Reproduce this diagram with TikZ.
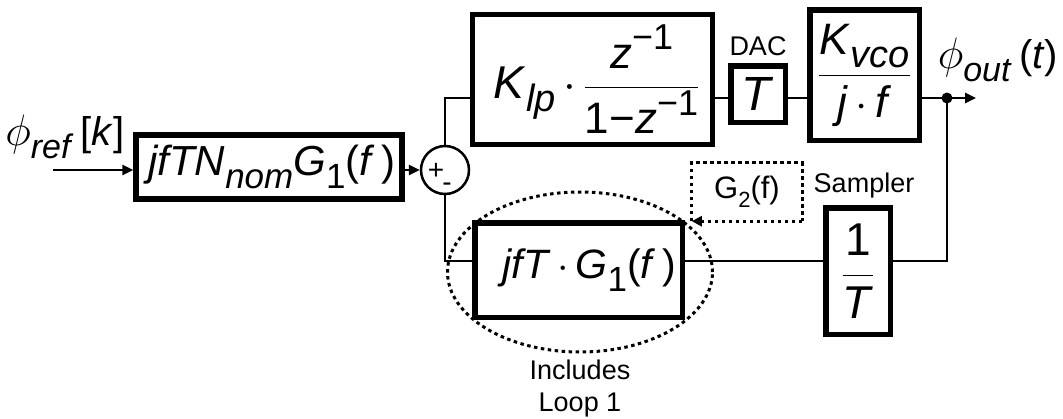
\RequirePackage{fix-cm}
\documentclass[tikz,border=0pt]{standalone}
\usepackage{amsmath}
\usepackage{fontspec}
\setmainfont{Liberation Sans}
\usetikzlibrary{arrows.meta,shapes.geometric}
\newcommand\mi[1]{\textit{#1}}
\newcommand\fsz[1]{\fontsize{#1}{#1}\selectfont}
\newcommand\lo[2]{\raisebox{-0.3em}{\fsz{#1}#2}}
\newcommand\hi[2]{\raisebox{0.42em}{\fsz{#1}#2}}
\tikzset{
  blk/.style={draw,line width=5.5pt,inner sep=0pt,anchor=center},
  wire/.style={line width=2.5pt},
  arr/.style={wire,-{Triangle[length=11pt,width=10pt]}},
  dotline/.style={line width=3pt,dash pattern=on 3.5pt off 3.5pt},
  lbl/.style={inner sep=0pt,align=center},
}
\begin{document}
\begin{tikzpicture}[x=1pt,y=-1pt]
\useasboundingbox (0,0) rectangle (1063,418);
\coordinate (rA) at (0,98);
\coordinate (rB) at (0,261);
\coordinate (rC) at (0,170);
\coordinate (in) at (53,170);
\coordinate (out) at (976,98);
\coordinate (j) at (947,98);

\node[blk,minimum width=266pt,minimum height=64pt] (b1) at (269,167)
  {\fsz{42}\hspace{6pt}\mi{jfTN}\lo{35}{\mi{nom}}\mi{G}\lo{35}{1}(\mi{f}\,)};
\node[draw,circle,line width=2.5pt,minimum size=48pt,inner sep=0pt] (sum) at (445,170) {};
\node[lbl,font=\fsz{28}] (plus) at (436,171) {+};
\node[lbl,font=\fsz{28}] (minus) at (447,187) {-};

\node[blk,minimum width=240pt,minimum height=130pt] (b2) at (592.5,79.5)
  {\fsz{46}\hspace{8pt}\mi{K}\lo{38}{\mi{lp}}\,$\cdot$\,\fsz{44}$\dfrac{\mbox{\mi{z}\hi{36}{−1}}}{\mbox{1−\mi{z}\hi{36}{−1}}}$};
\node[blk,minimum width=54.5pt,minimum height=56.5pt] (dac) at (758,94)
  {\fsz{48}\mi{T}};
\node[blk,minimum width=109.5pt,minimum height=130.5pt] (b3) at (864.5,75)
  {\fsz{44}$\dfrac{\mbox{\mi{K}\lo{38}{\mi{vco}}\rule[-0.42em]{0pt}{0.1em}}}{\mbox{\mi{j}\,$\cdot$\,\mi{f}}}$};
\node[blk,minimum width=64.5pt,minimum height=126.5pt] (s) at (858,271)
  {\fsz{46}$\dfrac{\mbox{1}}{\mbox{\mi{T}}}$};
\node[blk,minimum width=207.5pt,minimum height=94.5pt] (b4) at (578.5,270)
  {\fsz{41}\hspace{22pt}\mi{jfT}\,$\cdot$\,\mi{G}\lo{35}{1}(\mi{f}\,)};
\node[lbl,minimum width=110pt,minimum height=58pt] (g2) at (747,192)
  {\fsz{31}G\lo{22}{2}(f)};
\node[draw,ellipse,dotline,minimum width=265pt,minimum height=160pt] (ell) at (580,272) {};

% labels
\node[lbl] (pref) at (65,137) {\fsz{44}$\phi$\lo{34}{\mi{ref}}\,\fsz{40}[\mi{k}]};
\node[lbl] (pout) at (998,60) {\fsz{44}$\phi$\lo{34}{\mi{out}}\,\fsz{40}(\mi{t})};
\node[lbl,font=\fsz{27}] (daclbl) at (758,46) {DAC};
\node[lbl,font=\fsz{27}] (samp) at (864,186) {Sampler};
\node[lbl,font=\fsz{27},align=center] (inc) at (580,389) {Includes\\[5pt]Loop 1};

% connectors
\draw[arr] (in) -- (in -| b1.west);
\draw[arr] (b1.east |- rC) -- (sum.west);
\draw[wire] (sum.north) |- (b2.west |- rA);
\draw[wire] (b2.east |- rA) -- (dac.west |- rA);
\draw[wire] (dac.east |- rA) -- (b3.west |- rA);
\draw[arr] (b3.east |- rA) -- (out);
\fill (j) circle (5.5pt);
\draw[wire] (j) |- (s.east |- rB);
\draw[wire] (sum.south) |- (b4.west |- rB);
\draw[wire] (b4.east |- rB) -- (s.west |- rB);
\draw[dotline] (g2.south west) |- (g2.north east) -- (g2.south east);
\draw[dotline,-{Triangle[length=10pt,width=10pt]}] (g2.south east) -- (g2.south west);
\end{tikzpicture}
\end{document}
